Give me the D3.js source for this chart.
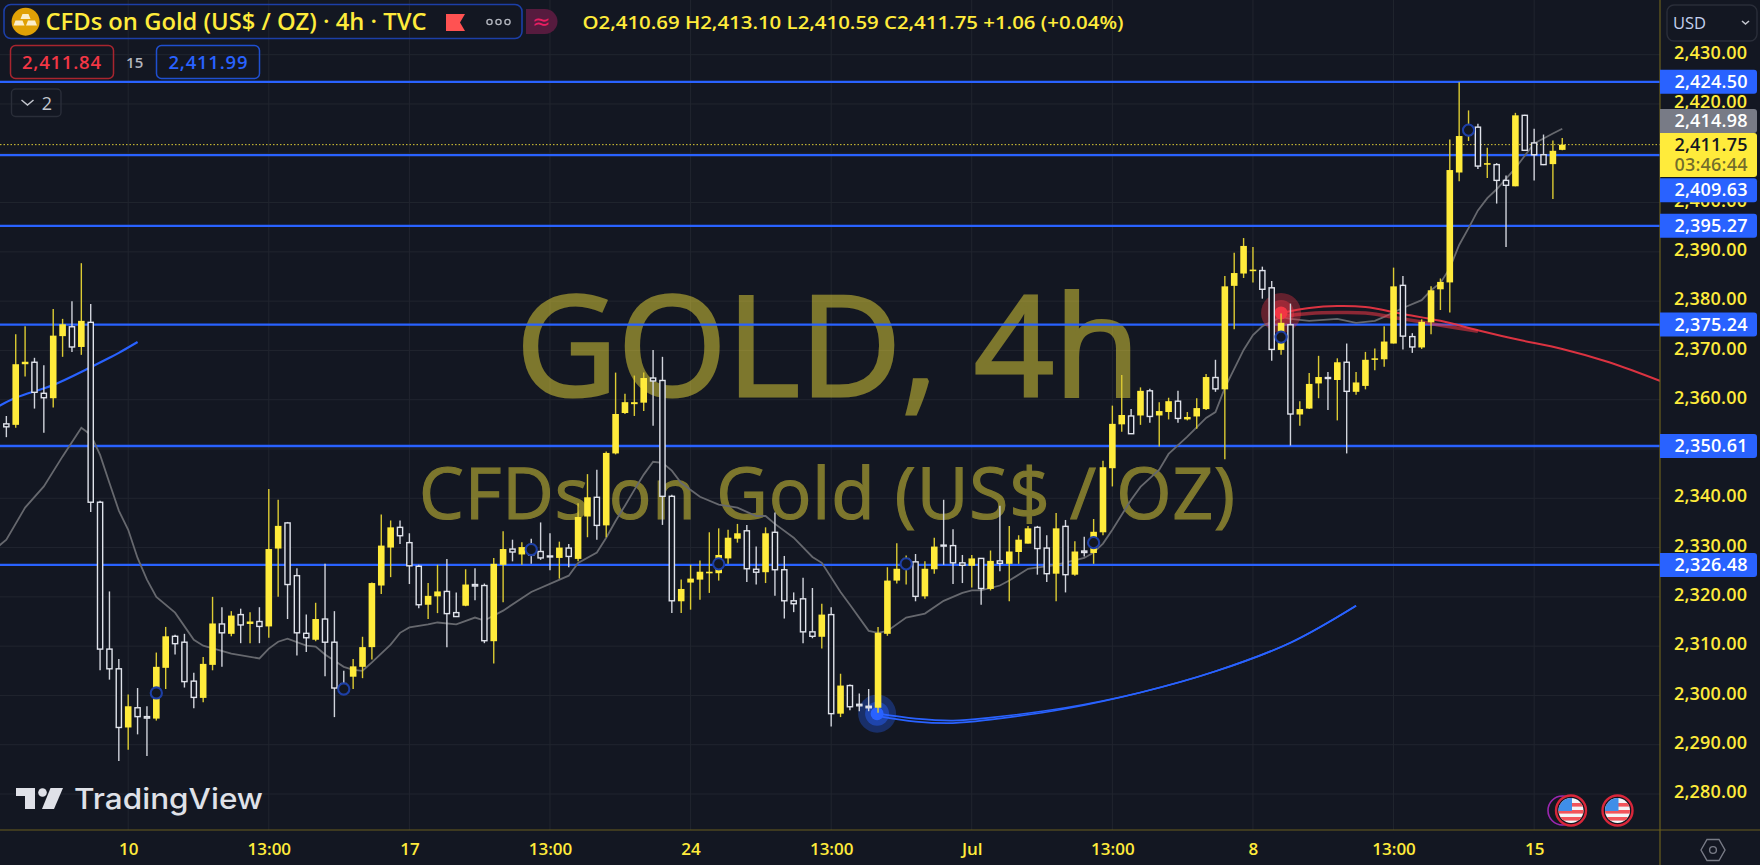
<!DOCTYPE html>
<html><head><meta charset="utf-8">
<script src="https://cdnjs.cloudflare.com/ajax/libs/d3/7.8.5/d3.min.js"></script>
<style>
html,body{margin:0;padding:0;background:#131722;overflow:hidden}
svg{display:block}
text{font-family:"Open Sans","Noto Sans",sans-serif}
</style></head><body>
<script>
const firstBar=-13;
const highs=[2356.7,2373.3,2374.9,2368.5,2367.0,2378.4,2376.4,2380.0,2387.7,2379.4,
2339.5,2321.1,2307.4,2300.2,2301.5,2297.8,2308.7,2313.9,2312.3,2312.5,
2304.6,2307.8,2320.0,2317.9,2317.1,2317.6,2316.9,2317.9,2341.9,2339.7,
2335.2,2325.8,2316.4,2318.8,2326.7,2317.1,2305.0,2307.4,2311.9,2322.9,
2336.7,2335.5,2335.5,2332.9,2326.5,2322.8,2326.5,2327.7,2320.9,2325.6,
2325.8,2322.7,2327.9,2333.3,2331.6,2331.1,2331.8,2335.1,2332.9,2331.2,
2330.7,2339.0,2344.9,2345.8,2349.5,2365.5,2361.2,2364.9,2365.5,2370.1,
2368.7,2340.7,2323.5,2326.5,2327.4,2333.1,2333.9,2333.6,2334.8,2334.6,
2330.2,2334.1,2337.1,2328.3,2320.9,2323.9,2321.8,2318.6,2317.9,2304.4,
2302.2,2300.4,2301.3,2313.9,2326.0,2330.9,2328.4,2328.7,2327.2,2332.0,
2339.7,2333.7,2328.5,2328.5,2327.9,2329.4,2338.5,2334.4,2332.5,2334.4,
2334.4,2332.5,2337.0,2335.6,2331.3,2332.2,2335.8,2347.6,2358.8,2365.0,
2358.1,2362.5,2362.2,2359.5,2360.4,2361.8,2357.5,2360.3,2365.2,2368.1,
2385.1,2389.8,2392.8,2391.0,2387.0,2384.1,2377.5,2379.5,2359.7,2365.4,
2368.9,2365.6,2368.4,2371.4,2365.6,2369.7,2370.4,2374.9,2386.8,2385.1,
2373.5,2376.3,2383.0,2384.6,2412.8,2424.4,2418.7,2416.0,2411.1,2408.0,
2405.5,2418.2,2417.8,2415.0,2413.8,2412.6,2413.1];
const lows=[2352.4,2354.3,2364.7,2358.2,2353.3,2358.4,2368.7,2369.7,2369.1,2337.2,
2305.1,2303.2,2286.7,2289.0,2292.1,2287.7,2294.9,2301.3,2308.3,2301.6,
2297.4,2298.6,2305.1,2305.8,2312.0,2310.6,2310.6,2310.6,2311.7,2320.0,
2315.5,2308.1,2308.8,2311.0,2303.9,2295.6,2300.2,2301.3,2303.5,2307.3,
2320.6,2324.0,2330.7,2322.6,2317.7,2315.5,2316.7,2309.8,2316.0,2318.1,
2319.3,2310.6,2306.5,2318.9,2327.2,2326.5,2326.7,2327.5,2325.4,2323.7,
2326.0,2327.2,2332.1,2331.6,2332.1,2348.9,2357.1,2356.7,2357.7,2354.7,
2334.6,2316.7,2316.7,2317.4,2319.4,2320.8,2323.3,2326.7,2331.0,2323.0,
2322.5,2322.8,2320.2,2315.6,2316.9,2310.6,2311.6,2309.5,2293.7,2295.6,
2297.0,2296.8,2296.8,2296.5,2312.1,2322.7,2322.5,2319.1,2319.6,2324.7,
2326.5,2322.6,2322.8,2321.9,2318.4,2321.3,2325.2,2319.1,2326.7,2330.8,
2324.5,2323.0,2319.1,2320.9,2324.3,2328.2,2326.7,2332.5,2342.4,2353.5,
2353.1,2354.9,2355.3,2350.5,2356.0,2355.3,2355.8,2354.1,2357.9,2361.6,
2347.9,2374.3,2384.7,2383.8,2380.5,2367.9,2369.1,2350.7,2354.7,2358.1,
2360.3,2357.9,2355.8,2349.1,2361.0,2362.1,2366.0,2366.7,2371.4,2370.2,
2369.5,2370.3,2373.3,2378.2,2377.7,2404.3,2412.5,2406.8,2405.0,2399.8,
2391.0,2403.3,2410.6,2404.5,2407.6,2400.7,2410.59];
const opens=[2355.1,2354.9,2367.2,2367.6,2361.3,2360.3,2372.9,2374.8,2370.7,2375.7,
2339.2,2309.4,2305.4,2293.5,2297.5,2295.7,2295.3,2305.6,2312.0,2310.8,
2302.9,2299.5,2306.2,2314.5,2312.5,2316.4,2314.5,2315.0,2314.0,2329.8,
2335.0,2324.3,2312.6,2311.3,2315.5,2310.8,2302.4,2303.8,2305.8,2309.8,
2322.3,2330.0,2334.1,2331.0,2326.2,2318.4,2320.1,2321.1,2316.8,2318.2,
2322.5,2322.3,2311.0,2326.5,2329.7,2328.6,2330.6,2329.2,2328.3,2327.9,
2329.9,2327.7,2336.3,2340.2,2334.5,2349.1,2357.3,2359.1,2359.4,2364.4,
2363.9,2340.4,2319.1,2322.9,2323.5,2324.8,2324.8,2327.8,2331.8,2333.4,
2325.6,2325.0,2333.1,2325.5,2319.2,2319.6,2312.9,2311.9,2316.4,2296.3,
2302.0,2298.2,2297.8,2297.5,2312.5,2323.3,2325.7,2327.1,2320.1,2325.6,
2330.5,2330.4,2326.9,2326.3,2327.8,2321.6,2327.3,2326.7,2329.1,2330.8,
2334.1,2329.9,2324.7,2334.3,2324.5,2329.3,2328.9,2333.1,2346.1,2355.0,
2356.7,2356.8,2361.8,2356.8,2357.5,2359.7,2356.0,2356.6,2358.1,2364.5,
2362.1,2383.1,2385.6,2386.1,2386.2,2382.7,2370.1,2375.2,2357.0,2358.2,
2363.3,2364.5,2364.0,2367.6,2361.6,2362.8,2368.2,2368.2,2371.4,2383.2,
2372.8,2370.6,2375.7,2382.4,2383.8,2406.1,2413.6,2415.3,2407.7,2407.7,
2404.5,2403.3,2417.7,2412.1,2409.7,2407.8,2410.69];
const closes=[2354.5,2367.2,2367.7,2361.5,2360.4,2373.0,2375.3,2370.7,2376.0,2339.2,
2309.4,2305.4,2293.5,2297.8,2295.7,2295.4,2305.8,2312.0,2310.5,2302.8,
2299.6,2306.4,2314.6,2312.7,2316.2,2314.3,2315.0,2314.0,2329.7,2334.4,
2322.5,2312.7,2311.7,2315.5,2310.8,2301.5,2300.4,2305.9,2309.8,2322.8,
2330.4,2334.1,2332.4,2326.3,2318.4,2320.2,2321.1,2316.6,2316.0,2322.5,
2322.2,2311.1,2326.7,2329.7,2329.1,2330.1,2328.5,2327.9,2328.1,2330.0,
2328.2,2336.2,2340.2,2334.5,2349.2,2357.1,2359.5,2359.5,2364.4,2363.8,
2340.4,2319.2,2321.6,2323.7,2325.1,2325.1,2328.5,2332.0,2332.9,2325.7,
2325.0,2332.9,2325.5,2319.2,2318.6,2312.9,2312.0,2316.4,2296.3,2302.0,
2297.7,2297.9,2297.5,2312.7,2323.3,2325.7,2327.9,2320.1,2325.7,2330.2,
2330.3,2326.9,2326.4,2327.8,2321.7,2327.3,2326.8,2329.2,2331.6,2333.9,
2329.8,2324.7,2333.9,2324.5,2329.2,2329.0,2333.2,2346.3,2355.1,2356.9,
2353.1,2361.8,2356.6,2357.7,2359.7,2356.2,2356.5,2358.3,2364.6,2362.2,
2383.0,2385.7,2391.2,2386.4,2382.4,2370.2,2375.6,2357.1,2358.1,2363.2,
2364.6,2364.3,2367.6,2361.7,2363.5,2368.1,2368.4,2371.8,2383.0,2372.9,
2370.7,2375.8,2382.2,2383.9,2406.6,2413.5,2415.7,2407.4,2408.0,2404.5,
2403.5,2417.7,2410.6,2409.7,2407.7,2410.5,2411.75];

const maBars=[-14,-13,-11,-9,-7,-5,-4,-3,-2,-1,0,1,2,3,5,7,8,11,14,15,16,17,19,20,21,23,24,25,26,28,29,30,32,33,35,37,38,40,43,47,48,50,51,52,53,54,55,56,57,58,59,61,63,65,67,68,69,71,73,74,76,77,79,80,81,83,85,87,89,90,91,93,94,96,99,102,103,104,105,107,108,110,111,113,115,116,117,119,120,121,123,124,126,129,131,133,134,136,138,139,140,141,142,143,144,145,146,148,150,151,152,153];
const maValues=[2330,2331.6,2338.1,2342.4,2348.5,2354.3,2352.9,2348.8,2343.1,2337.5,2333.6,2327.9,2323.5,2320,2316.8,2311.3,2310.1,2308.5,2307.5,2309.5,2310.9,2311.5,2310.1,2309.9,2308.3,2305.8,2305.2,2305,2306.7,2310.3,2312.7,2313.8,2314.4,2314.8,2314.4,2315.8,2315.2,2317.2,2321,2324.3,2326.9,2329,2332,2335.4,2338.5,2341.7,2344.8,2347.4,2347.2,2345.6,2343.1,2340.3,2338.7,2338.1,2336.4,2336.4,2334.8,2332,2328.1,2326.9,2321,2318.4,2313.1,2312.7,2313.1,2315.8,2316.6,2319.2,2320.8,2321.3,2321.3,2322.3,2323.3,2325.7,2326.5,2327.9,2329,2330.8,2333.6,2339.7,2342.3,2345.8,2349,2352.5,2356.3,2357.5,2362.4,2370.1,2373.1,2374.9,2376.8,2376.4,2376,2376.4,2375.6,2376,2376.8,2378.6,2380.2,2382.2,2383.7,2386.7,2391.4,2394.8,2398.4,2400.9,2402.7,2407,2412,2413,2414,2414.98];

const blueLeftBars=[-14,-12,-8,-4,-2,-1,1];
const blueLeftValues=[2358.5,2360.4,2363,2366.6,2368.5,2369.5,2371.7];
const blueLowBars=[80,84,88,92,100,108,116,124,131];
const blueLowValuesA=[2296.3,2295.3,2294.9,2295.5,2297.5,2300.6,2304.9,2310.7,2318.2];
const blueLowValuesB=[2295.8,2294.7,2294.4,2295.1,2297.3,2300.6,2304.9,2310.7,2318.2];
const redBars=[123,126,129,132,136,140,144,148,153,158,164];
const redValuesA=[2377.6,2378.6,2379,2378.8,2377.4,2376,2374.1,2372.3,2370.3,2367.6,2363.4];
const redBandBars=[123,126,129,132,136,140,144];
const redValuesB=[2376.9,2377.5,2377.7,2377.6,2376.4,2375.1,2373.9];

const markerBars=[3,23,43,63,83,103,123,143];
const markerValues=[2300.5,2301.3,2329.6,2326.7,2326.7,2331,2372.7,2414.7];

const priceLevels=[2424.50,2409.63,2395.27,2375.24,2350.61,2326.48];
const priceTicks=[2430,2420,2410,2400,2390,2380,2370,2360,2350,2340,2330,2320,2310,2300,2290,2280];
const hiddenPriceTick=2410;
const timeTicks=[0,15,30,45,60,75,90,105,120,135,150];
const timeLabels=["10","13:00","17","13:00","24","13:00","Jul","13:00","8","13:00","15"];
const lastClose=2411.75, maLast=2414.98;

const W=1760,H=865,plotR=1660,plotB=830;
const BG="#131722",YEL="#ffeb3b",BLUE="#2962ff",GRID="#21252f",AXIS="#6b5f1e",WHITE="#e0e3eb";
const x=d3.scaleLinear().domain([0,150]).range([128.2,128.2+150*9.373]);
const y=d3.scaleLinear().domain([2280,2430]).range([794,54.7]);

const svg=d3.select("body").append("svg").attr("width",W).attr("height",H);
svg.append("rect").attr("width",W).attr("height",H).attr("fill",BG);
svg.append("clipPath").attr("id","plot").append("rect").attr("width",plotR).attr("height",plotB);
const g=svg.append("g").attr("clip-path","url(#plot)");

// grid
g.append("g").selectAll("line").data(priceTicks).join("line")
 .attr("x1",0).attr("x2",plotR).attr("y1",d=>y(d)).attr("y2",d=>y(d)).attr("stroke",GRID).attr("stroke-width",1);
g.append("g").selectAll("line").data(timeTicks).join("line")
 .attr("x1",d=>x(d)).attr("x2",d=>x(d)).attr("y1",0).attr("y2",plotB).attr("stroke",GRID).attr("stroke-width",1);

// watermark
g.append("text").text("GOLD, 4h").attr("x",516).attr("y",396).attr("font-size",140).attr("font-weight",500)
 .attr("textLength",624).attr("lengthAdjust","spacing").attr("fill",YEL).attr("stroke",YEL).attr("stroke-width",3).attr("opacity",.45);
g.append("text").text("CFDs on Gold (US$ / OZ)").attr("x",419).attr("y",519).attr("font-size",71).attr("font-weight",500)
 .attr("textLength",816).attr("lengthAdjust","spacing").attr("fill",YEL).attr("stroke",YEL).attr("stroke-width",1.2).attr("opacity",.45);

// levels
g.append("g").selectAll("line").data(priceLevels).join("line")
 .attr("x1",0).attr("x2",plotR).attr("y1",d=>y(d)).attr("y2",d=>y(d)).attr("stroke",BLUE).attr("stroke-width",2.3);
g.append("line").attr("x1",0).attr("x2",plotR).attr("y1",y(lastClose)).attr("y2",y(lastClose))
 .attr("stroke",YEL).attr("stroke-width",1).attr("stroke-dasharray","1.5 2").attr("stroke-opacity",.85);

// curves
const ln=(bars,vals,curve)=>d3.line().x((d,i)=>x(bars[i])).y(d=>y(d)).curve(curve||d3.curveCatmullRom)(vals);
g.append("path").attr("d",ln(maBars,maValues,d3.curveLinear)).attr("fill","none").attr("stroke","#66686e").attr("stroke-width",1.8);
g.append("path").attr("d",ln(blueLeftBars,blueLeftValues)).attr("fill","none").attr("stroke",BLUE).attr("stroke-width",2.2);
const glow=(bar,val,c,rs)=>{rs.forEach(([r,o])=>g.append("circle").attr("cx",x(bar)).attr("cy",y(val)).attr("r",r).attr("fill",c).attr("fill-opacity",o));};
glow(blueLowBars[0]-.1,blueLowValuesA[0],BLUE,[[19,.32],[12,.45],[6.5,1]]);
glow(redBars[0],redValuesA[0],"#f23645",[[20,.36],[13,.4],[6.5,1]]);
g.append("path").attr("d",ln(blueLowBars,blueLowValuesA)).attr("fill","none").attr("stroke",BLUE).attr("stroke-width",1.7);
g.append("path").attr("d",ln(blueLowBars,blueLowValuesB)).attr("fill","none").attr("stroke",BLUE).attr("stroke-width",1.7);
g.append("path").attr("d",ln(redBandBars,redValuesB)).attr("fill","none").attr("stroke","#f23645").attr("stroke-width",3.5).attr("stroke-opacity",.55);
g.append("path").attr("d",ln(redBars,redValuesA)).attr("fill","none").attr("stroke","#f23645").attr("stroke-width",2).attr("stroke-opacity",.9);

// candles
const candles=d3.range(opens.length).map(i=>({bar:firstBar+i,o:opens[i],h:highs[i],l:lows[i],c:closes[i]}));
const cg=g.append("g").selectAll("g").data(candles).join("g");
cg.append("line").attr("x1",d=>x(d.bar)).attr("x2",d=>x(d.bar)).attr("y1",d=>y(d.h)).attr("y2",d=>y(d.l))
 .attr("stroke",d=>d.c>=d.o?"#dccb33":"#d1d4dc").attr("stroke-width",1.4);
cg.filter(d=>d.c>=d.o).append("rect").attr("x",d=>x(d.bar)-3.3).attr("width",6.6)
 .attr("y",d=>y(d.c)).attr("height",d=>Math.max(1.6,y(d.o)-y(d.c))).attr("fill",YEL);
cg.filter(d=>d.c<d.o).append("rect").attr("x",d=>x(d.bar)-2.6).attr("width",5.2)
 .attr("y",d=>y(d.o)).attr("height",d=>Math.max(.8,y(d.c)-y(d.o)))
 .attr("fill",BG).attr("stroke",WHITE).attr("stroke-width",1.4);

// markers
g.append("g").selectAll("circle").data(markerBars).join("circle")
 .attr("cx",d=>x(d)).attr("cy",(d,i)=>y(markerValues[i])).attr("r",5.6)
 .attr("fill",BG).attr("stroke","#1d3fa6").attr("stroke-width",2.1);

// logo
const logo=svg.append("g").attr("transform","translate(16,788)").attr("fill","#dfe1e8");
logo.append("path").attr("d","M0 0H19V21H9V8H0Z");
logo.append("circle").attr("cx",26.5).attr("cy",4.5).attr("r",4.3);
logo.append("path").attr("d","M34.5 0H47L38 21H26Z");
svg.append("text").text("TradingView").attr("x",74).attr("y",809).attr("font-size",29).attr("font-weight",500)
 .attr("style","font-family:Inter").attr("textLength",189).attr("lengthAdjust","spacingAndGlyphs").attr("fill","#dfe1e8");

// axes
svg.append("line").attr("x1",plotR).attr("x2",plotR).attr("y1",0).attr("y2",H).attr("stroke",AXIS).attr("stroke-width",1.2);
svg.append("line").attr("x1",0).attr("x2",W).attr("y1",plotB).attr("y2",plotB).attr("stroke",AXIS).attr("stroke-width",1.2);
const fmt=d3.format(",.2f");
const yAxis=svg.append("g").attr("transform",`translate(${plotR},0)`).call(d3.axisRight(y).tickValues(priceTicks.filter(d=>d!==hiddenPriceTick)).tickSize(0).tickPadding(14).tickFormat(fmt));
yAxis.select(".domain").remove();
yAxis.selectAll("text").attr("fill",YEL).attr("font-size",18).attr("font-weight",600).attr("dy","0.2em")
 .attr("textLength",73).attr("lengthAdjust","spacing").style("font-family",'"Open Sans"');
const xAxis=svg.append("g").attr("transform",`translate(0,${plotB})`).call(d3.axisBottom(x).tickValues(timeTicks).tickSize(0).tickPadding(13).tickFormat((d,i)=>timeLabels[i]));
xAxis.select(".domain").remove();
xAxis.selectAll("text").attr("fill",YEL).attr("font-size",17).attr("font-weight",600).style("font-family",'"Open Sans"');

// price labels
const box=(y0,h,c)=>svg.append("path").attr("d",`M${plotR} ${y0}H${W-6}a3 3 0 0 1 3 3V${y0+h-3}a3 3 0 0 1 -3 3H${plotR}Z`).attr("fill",c);
const lab=(s,cy,c,op)=>svg.append("text").text(s).attr("x",1674.5).attr("y",cy+6).attr("font-size",18).attr("font-weight",600)
 .attr("textLength",73).attr("lengthAdjust","spacing").attr("fill",c).attr("fill-opacity",op||1);
priceLevels.forEach(v=>{
  const cy=v===2409.63?190.3:y(v);
  box(cy-12,24,BLUE); lab(fmt(v),cy,"#ffffff");
});
box(109,24,"#787b86"); lab(fmt(maLast),121,"#ffffff");
box(133,44,YEL); lab(fmt(lastClose),144.5,"#131722");
lab("03:46:44",165,"#131722",.6);

// usd
svg.append("rect").attr("x",1667).attr("y",5).attr("width",90).attr("height",36).attr("rx",7).attr("fill","none").attr("stroke","#2a2e39").attr("stroke-width",1.4);
svg.append("text").text("USD").attr("x",1673).attr("y",29).attr("font-size",16.5).attr("fill","#c3d0ee").attr("font-weight",500);
svg.append("path").attr("d","M1742 21l3.5 3 3.5-3").attr("fill","none").attr("stroke","#c3c6ce").attr("stroke-width",1.6);

// gear
svg.append("path").attr("d","M1701 850l6-10.5h12l6 10.5-6 10.5h-12Z").attr("fill","none").attr("stroke","#787b86").attr("stroke-width",1.4);
svg.append("circle").attr("cx",1713).attr("cy",850).attr("r",3.4).attr("fill","none").attr("stroke","#787b86").attr("stroke-width",1.4);

// event flags
svg.append("circle").attr("cx",1562.5).attr("cy",810.5).attr("r",14.5).attr("fill",BG).attr("stroke","#9c27b0").attr("stroke-width",1.6);
const defs=svg.append("defs");
[1571,1617.5].forEach((cx,k)=>{
  defs.append("clipPath").attr("id","fc"+k).append("circle").attr("cx",cx).attr("cy",810.5).attr("r",12.5);
  const f=svg.append("g");
  f.append("circle").attr("cx",cx).attr("cy",810.5).attr("r",15).attr("fill",BG).attr("stroke","#d9263a").attr("stroke-width",2.4);
  const c=f.append("g").attr("clip-path",`url(#fc${k})`);
  c.append("rect").attr("x",cx-13).attr("y",798).attr("width",26).attr("height",25).attr("fill","#f4f4f6");
  [803,810,817].forEach(sy=>c.append("rect").attr("x",cx-13).attr("y",sy).attr("width",26).attr("height",3.6).attr("fill","#f2545b"));
  c.append("rect").attr("x",cx-13).attr("y",798).attr("width",14).attr("height",13).attr("fill","#3f8ee8");
});

// legend header
svg.append("rect").attr("x",4).attr("y",4.5).attr("width",518).attr("height",34).attr("rx",7).attr("fill","none").attr("stroke","#1c3fa8").attr("stroke-width",1.6);
svg.append("circle").attr("cx",25.6).attr("cy",21.7).attr("r",14).attr("fill","#e0a106");
svg.append("path").attr("d","M22.5 14h6l2 5h-10ZM15.5 20.5h7l2 5h-11ZM28 20.5h7l2 5h-11Z").attr("fill","#fbeecb");
svg.append("text").text("CFDs on Gold (US$ / OZ) · 4h · TVC").attr("x",45.5).attr("y",30).attr("font-size",22.5).attr("font-weight",600)
 .attr("textLength",381).attr("lengthAdjust","spacingAndGlyphs").attr("fill",YEL);
svg.append("path").attr("d","M446 14H465L460 22.5L465 31H446Z").attr("fill","#ff5252");
[489.5,498.5,507.5].forEach(cx=>svg.append("circle").attr("cx",cx).attr("cy",22).attr("r",2.6).attr("fill","none").attr("stroke","#b2b5be").attr("stroke-width",1.4));
svg.append("path").attr("d","M526 9H545a12.5 12.5 0 0 1 0 25H526Z").attr("fill","#561b3e");
svg.append("text").text("≈").attr("x",532).attr("y",29).attr("font-size",22).attr("fill","#e91e63").style("font-family","DejaVu Sans");
svg.append("text").text("O2,410.69  H2,413.10  L2,410.59  C2,411.75  +1.06 (+0.04%)").attr("x",582.5).attr("y",28.5).attr("font-size",18).attr("font-weight",600)
 .attr("textLength",541).attr("lengthAdjust","spacingAndGlyphs").attr("fill",YEL);

svg.append("rect").attr("x",10.5).attr("y",45.5).attr("width",103).attr("height",33).attr("rx",5).attr("fill","none").attr("stroke","#a8252f").attr("stroke-width",1.5);
svg.append("text").text("2,411.84").attr("x",22).attr("y",69).attr("font-size",18.5).attr("font-weight",600).attr("textLength",79).attr("lengthAdjust","spacing").attr("fill","#f23645");
svg.append("text").text("15").attr("x",134.7).attr("y",68).attr("text-anchor","middle").attr("font-size",15).attr("font-weight",600).attr("fill","#b2b5be");
svg.append("rect").attr("x",156.5).attr("y",45.5).attr("width",103).attr("height",33).attr("rx",5).attr("fill","none").attr("stroke","#1f4fd0").attr("stroke-width",1.5);
svg.append("text").text("2,411.99").attr("x",168.5).attr("y",69).attr("font-size",18.5).attr("font-weight",600).attr("textLength",79).attr("lengthAdjust","spacing").attr("fill",BLUE);
svg.append("rect").attr("x",11.5).attr("y",89).attr("width",49.5).attr("height",27.5).attr("rx",4).attr("fill","none").attr("stroke","#2a2e39").attr("stroke-width",1.4);
svg.append("path").attr("d","M21.5 100l6 5 6-5").attr("fill","none").attr("stroke","#c3c6ce").attr("stroke-width",1.5);
svg.append("text").text("2").attr("x",47).attr("y",109.5).attr("text-anchor","middle").attr("font-size",18).attr("fill","#c3c6ce");
</script>
</body></html>
